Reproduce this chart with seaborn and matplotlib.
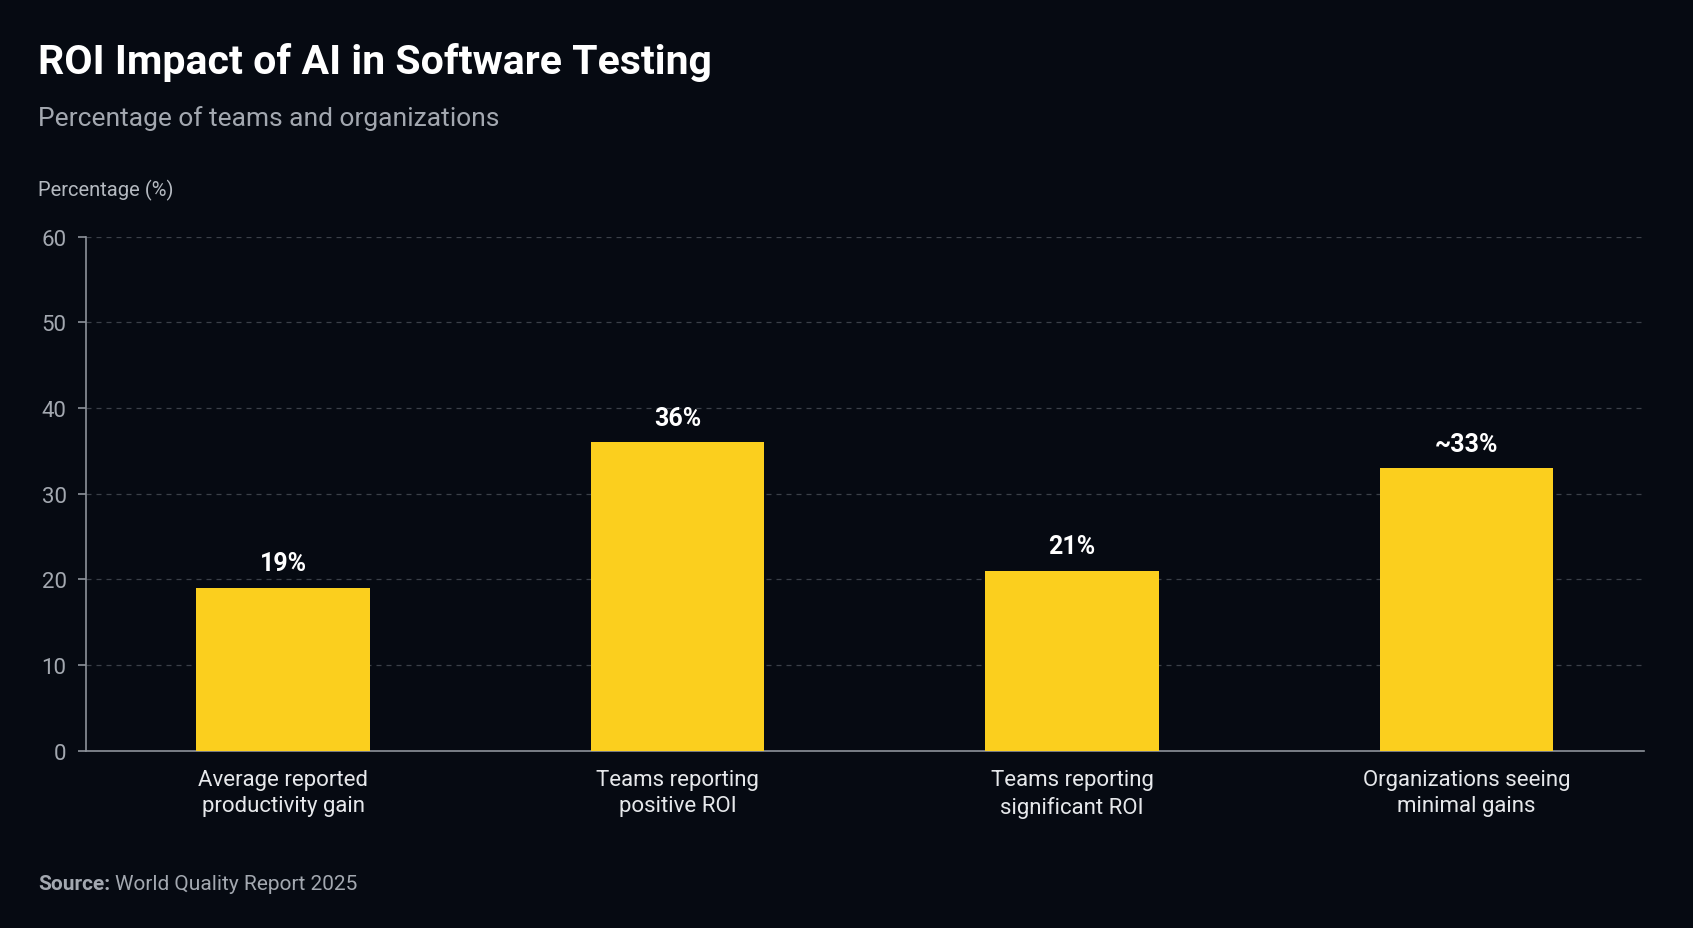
import matplotlib
matplotlib.use("Agg")
import pandas as pd
import seaborn as sns
from matplotlib import pyplot as plt

categories = ["Average reported\nproductivity gain",
              "Teams reporting\npositive ROI",
              "Teams reporting\nsignificant ROI",
              "Organizations seeing\nminimal gains"]
values = [19, 36, 21, 33]
value_labels = ["19%", "36%", "21%", "~33%"]
y_ticks = [0, 10, 20, 30, 40, 50, 60]

BG = "#060a12"
BAR = "#fbcf1e"
GRID = "#3b4049"
MUTED = "#a3a8b0"

sns.set_style("dark")
plt.rcParams["font.family"] = ["Roboto", "DejaVu Sans"]

data = pd.DataFrame({"category": categories, "value": values})

fig = plt.figure(figsize=(16.93, 9.29), dpi=100, facecolor=BG)
ax = fig.add_axes([0.0508, 0.191, 0.9203, 0.553])
ax.set_facecolor(BG)

sns.barplot(data, x="category", y="value", color=BAR, width=0.44, saturation=1, ax=ax,
            zorder=3, edgecolor="none", linewidth=0)

ax.set_ylim(0, 60)
ax.set_xlim(-0.5, 3.45)
ax.set_yticks(y_ticks)
ax.yaxis.grid(True, color=GRID, linestyle=(0, (4, 4)), linewidth=0.9, zorder=0)
ax.xaxis.grid(False)

for side in ["top", "right"]:
    ax.spines[side].set_visible(False)
for side in ["left", "bottom"]:
    ax.spines[side].set_visible(True)
    ax.spines[side].set_color("#8d929a")
    ax.spines[side].set_linewidth(1.2)

ax.tick_params(axis="y", colors="#8d929a", labelcolor=MUTED, labelsize=16, length=6, width=1.2, pad=8, left=True)
ax.tick_params(axis="x", length=0, pad=13, labelsize=16, labelcolor="#e6e8eb")
for lbl in ax.get_xticklabels():
    lbl.set_linespacing(1.35)
ax.set_xlabel("")
ax.set_ylabel("")

ax.bar_label(ax.containers[0], labels=value_labels, padding=9, color="white",
             fontsize=18, fontweight="bold")

fig.text(38 / 1693, 1 - 63 / 929, "ROI Impact of AI in Software Testing", color="white",
         fontsize=29.5, fontweight="bold", va="center", ha="left")
fig.text(38 / 1693, 1 - 119 / 929, "Percentage of teams and organizations", color=MUTED,
         fontsize=19, va="center", ha="left")
fig.text(38 / 1693, 1 - 190 / 929, "Percentage (%)", color="#b4b9c0",
         fontsize=14.5, va="center", ha="left")

src = fig.text(38 / 1693, 1 - 885 / 929, "Source:", color=MUTED, fontsize=15,
               fontweight="bold", va="center", ha="left")
fig.canvas.draw()
bb = src.get_window_extent()
fig.text((bb.x1 + 5) / 1693, 1 - 885 / 929, "World Quality Report 2025", color=MUTED,
         fontsize=15, va="center", ha="left")

plt.savefig("out.png", dpi=100, facecolor=BG)
plt.close()
